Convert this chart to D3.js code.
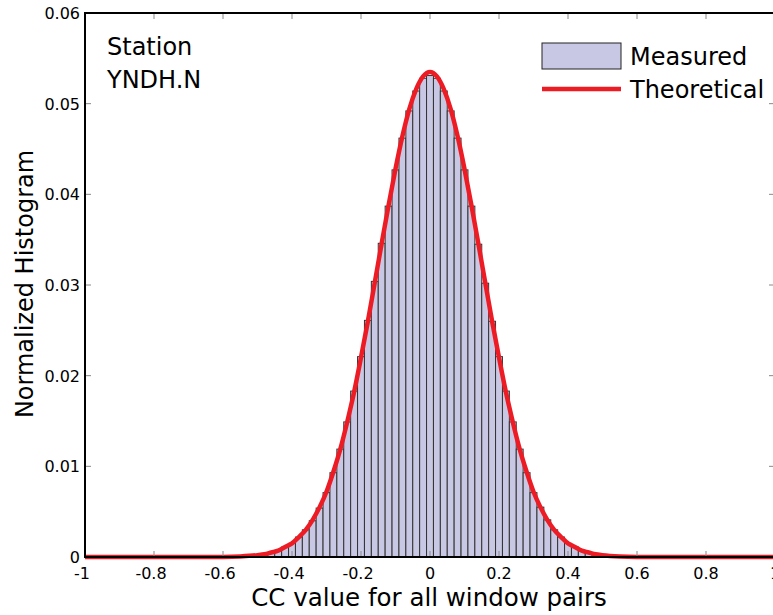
<!DOCTYPE html>
<html><head><meta charset="utf-8">
<script src="https://cdn.jsdelivr.net/npm/d3@7"></script>
<style>body{margin:0;background:#fff}svg{display:block}text{font-family:"DejaVu Sans",sans-serif;fill:#000}</style>
</head><body><svg id="c" width="773" height="615"></svg>
<script>
// Histogram bin centres (bin width 0.02) and normalized counts
const binCenters = [-0.50,-0.48,-0.46,-0.44,-0.42,-0.40,-0.38,-0.36,-0.34,-0.32,-0.30,-0.28,-0.26,-0.24,-0.22,-0.20,-0.18,-0.16,-0.14,-0.12,-0.10,-0.08,-0.06,-0.04,-0.02,0.00,0.02,0.04,0.06,0.08,0.10,0.12,0.14,0.16,0.18,0.20,0.22,0.24,0.26,0.28,0.30,0.32,0.34,0.36,0.38,0.40,0.42,0.44,0.46,0.48,0.50];
const measured = [0.0002,0.0003,0.0005,0.0007,0.0011,0.0015,0.0022,0.0030,0.0040,0.0054,0.0071,0.0093,0.0119,0.0149,0.0183,0.0221,0.0261,0.0304,0.0346,0.0387,0.0427,0.0462,0.0492,0.0514,0.0528,0.0531,0.0528,0.0514,0.0492,0.0462,0.0427,0.0387,0.0345,0.0302,0.0260,0.0221,0.0183,0.0149,0.0119,0.0093,0.0071,0.0055,0.0041,0.0030,0.0022,0.0015,0.0011,0.0007,0.0005,0.0003,0.0002];
// Theoretical curve points
const theoX = [-1.00,-0.90,-0.80,-0.70,-0.60,-0.55,-0.50,-0.48,-0.46,-0.44,-0.42,-0.40,-0.38,-0.36,-0.34,-0.32,-0.30,-0.28,-0.26,-0.24,-0.22,-0.20,-0.18,-0.16,-0.14,-0.12,-0.10,-0.08,-0.06,-0.04,-0.02,0.00,0.02,0.04,0.06,0.08,0.10,0.12,0.14,0.16,0.18,0.20,0.22,0.24,0.26,0.28,0.30,0.32,0.34,0.36,0.38,0.40,0.42,0.44,0.46,0.48,0.50,0.55,0.60,0.70,0.80,0.90,1.00];
const theoY = [0,0,0,0,0.00001,0.00006,0.0002,0.0003,0.0005,0.0007,0.0011,0.0015,0.0022,0.0030,0.0041,0.0055,0.0072,0.0094,0.0119,0.0149,0.0182,0.0220,0.0260,0.0303,0.0346,0.0388,0.0428,0.0464,0.0494,0.0516,0.0530,0.0535,0.0530,0.0516,0.0494,0.0464,0.0428,0.0388,0.0346,0.0303,0.0260,0.0220,0.0182,0.0149,0.0119,0.0094,0.0072,0.0055,0.0041,0.0030,0.0022,0.0015,0.0011,0.0007,0.0005,0.0003,0.0002,0.00006,0.00001,0,0,0,0];
const xTicks = [-1,-0.8,-0.6,-0.4,-0.2,0,0.2,0.4,0.6,0.8,1];
const xTickLabels = ["-1","-0.8","-0.6","-0.4","-0.2","0","0.2","0.4","0.6","0.8","1"];
const yTicks = [0,0.01,0.02,0.03,0.04,0.05,0.06];
const yTickLabels = ["0","0.01","0.02","0.03","0.04","0.05","0.06"];
const binWidth = 0.02;

const svg = d3.select("#c");
const L=85, R=775, T=13, B=557;
const x = d3.scaleLinear().domain([-1,1]).range([L,R]);
const y = d3.scaleLinear().domain([0,0.06]).range([B,T]);

// bars
svg.append("g").selectAll("rect").data(binCenters).join("rect")
  .attr("x", d=>x(d-binWidth/2)).attr("width", d=>x(d+binWidth/2)-x(d-binWidth/2))
  .attr("y", (d,i)=>y(measured[i])).attr("height",(d,i)=>B-y(measured[i]))
  .attr("fill","#c8c8e4").attr("stroke","#333").attr("stroke-width",1);

// curve
const line = d3.line().x(d=>x(d[0])).y(d=>y(d[1])).curve(d3.curveMonotoneX);
svg.append("path").datum(theoX.map((v,i)=>[v,theoY[i]]))
  .attr("d", line).attr("fill","none").attr("stroke","#ed1c24").attr("stroke-width",4.5).attr("stroke-linejoin","round");

// inward ticks
const tk = svg.append("g").attr("stroke","#888").attr("stroke-width",1);
xTicks.forEach(t=>{
  tk.append("line").attr("x1",x(t)).attr("x2",x(t)).attr("y1",B).attr("y2",B-6);
  tk.append("line").attr("x1",x(t)).attr("x2",x(t)).attr("y1",T).attr("y2",T+6);
});
yTicks.forEach(t=>{
  tk.append("line").attr("x1",L).attr("x2",L+6).attr("y1",y(t)).attr("y2",y(t));
  tk.append("line").attr("x1",R).attr("x2",R-6).attr("y1",y(t)).attr("y2",y(t));
});

// frame
svg.append("rect").attr("x",L).attr("y",T).attr("width",R-L).attr("height",B-T)
  .attr("fill","none").attr("stroke","#000").attr("stroke-width",2);

// tick labels
svg.append("g").selectAll("text").data(xTicks).join("text")
  .attr("x",d=>x(d)+(d<0?-3:0)).attr("y",B+22).attr("text-anchor","middle")
  .attr("font-size",16).text((d,i)=>xTickLabels[i]);
svg.append("g").selectAll("text").data(yTicks).join("text")
  .attr("x",L-5).attr("y",d=>y(d)+6).attr("text-anchor","end")
  .attr("font-size",16).text((d,i)=>yTickLabels[i]);

// axis titles
svg.append("text").attr("x",429).attr("y",606).attr("text-anchor","middle")
  .attr("font-size",24.5).text("CC value for all window pairs");
svg.append("text").attr("transform","translate(33,284) rotate(-90)").attr("text-anchor","middle")
  .attr("font-size",24).text("Normalized Histogram");

// annotation
svg.append("text").attr("x",107).attr("y",55).attr("font-size",24).text("Station");
svg.append("text").attr("x",107).attr("y",88).attr("font-size",24).text("YNDH.N");

// legend
svg.append("rect").attr("x",542).attr("y",43).attr("width",79).attr("height",26)
  .attr("fill","#c8c8e4").attr("stroke","#222").attr("stroke-width",1);
svg.append("text").attr("x",630).attr("y",65).attr("font-size",24).text("Measured");
svg.append("line").attr("x1",542).attr("x2",621).attr("y1",89).attr("y2",89)
  .attr("stroke","#ed1c24").attr("stroke-width",4.5);
svg.append("text").attr("x",630).attr("y",98).attr("font-size",24).text("Theoretical");
</script></body></html>
